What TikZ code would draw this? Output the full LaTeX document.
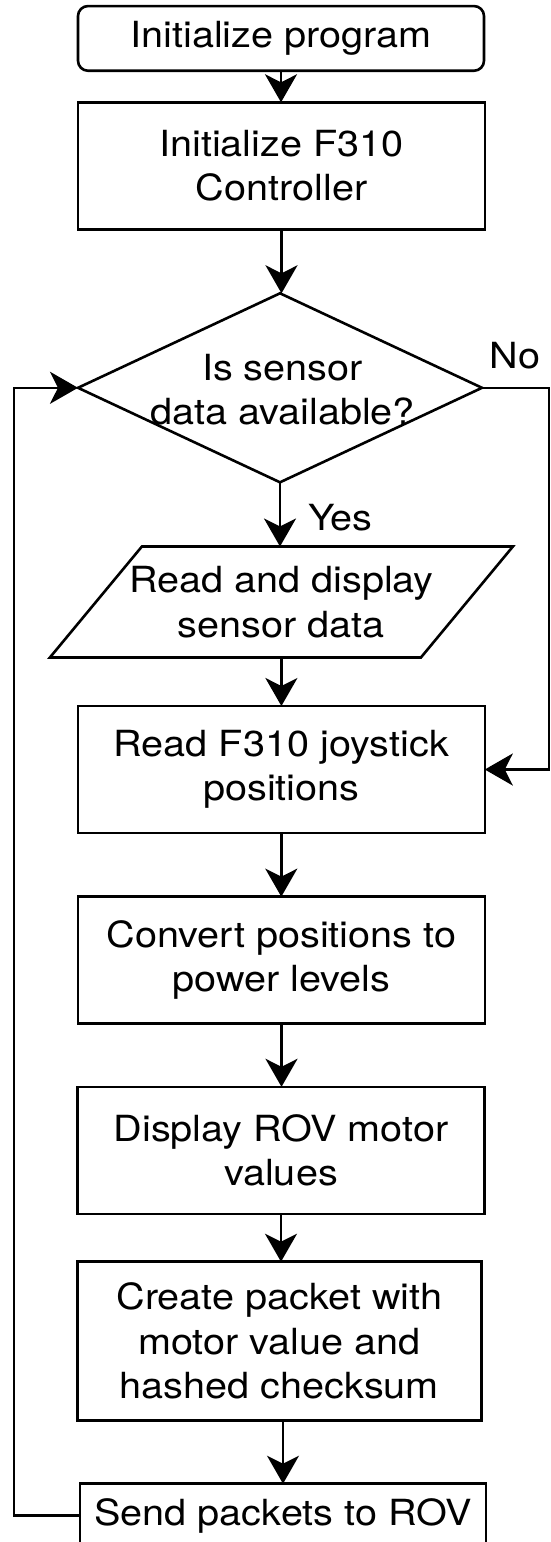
\documentclass[tikz,border=0pt]{standalone}
\usepackage{fontspec}
\setmainfont{TeX Gyre Heros}[FakeStretch=1.1]
\usetikzlibrary{shapes.geometric, arrows.meta}

\begin{document}
\begin{tikzpicture}[x=1pt, y=-1pt, line width=2.6pt, line join=miter,
	every node/.style={outer sep=0pt, inner sep=0pt, align=center, font=\fontsize{36}{44.5}\selectfont},
	block/.style={draw, rectangle, minimum width=407, minimum height=127},
	startbox/.style={draw, rectangle, rounded corners=10pt, minimum width=406, minimum height=64.7},
	decision/.style={draw, diamond, minimum width=404, minimum height=189},
	arrow/.style={-{Stealth[length=28pt, width=32pt, inset=8pt]}}]
	
	\path[use as bounding box] (0,0) rectangle (551,1542);
	\clip (0,0) rectangle (551,1542);
	
	% Các khối chính
	\node[startbox] (start) at (281,38.4) {Initialize program};
	\node[block] (initpad) at (281.5,165.8) {Initialize F310\\Controller};
	\node[decision] (sensorcheck) at (280,387.8) {};
	\node (sensortext) at (282.5,389.5) {Is sensor\\data available?};
	\node[minimum width=371, minimum height=111] (readsensor) at (281.4,602) {Read and display\\sensor data};
	\draw ([xshift=46pt]readsensor.north west) -- ([xshift=46pt]readsensor.north east) -- ([xshift=-46pt]readsensor.south east) -- ([xshift=-46pt]readsensor.south west) -- cycle;
	\node[block] (readjoy) at (281.3,769.5) {Read F310 joystick\\positions};
	\node[block, minimum height=126.7] (convert) at (281.5,960) {Convert positions to\\power levels};
	\node[block] (showmotor) at (281,1150.3) {Display ROV motor\\values};
	\node[block, minimum width=404, minimum height=159] (packet) at (279.4,1341.2) {Create packet with\\motor value and\\hashed checksum};
	\node[block, minimum width=406, minimum height=64] (send) at (283,1515.7) {Send packets to ROV};
	
	\node[anchor=west] (yeslbl) at (308,518) {Yes};
	\node (nolbl) at (515,355.5) {No};
	
	% Mũi tên
	\draw[arrow] (start.south) -- (start.south |- initpad.north);
	\draw[arrow] (initpad.south) -- (initpad.south |- sensorcheck.north);
	\draw[arrow] (sensorcheck.south) -- (sensorcheck.south |- readsensor.north);
	\draw[arrow] (readsensor.south) -- (readsensor.south |- readjoy.north);
	\draw[arrow] (readjoy.south) -- (readjoy.south |- convert.north);
	\draw[arrow] (convert.south) -- (convert.south |- showmotor.north);
	\draw[arrow] (showmotor.south) -- (showmotor.south |- packet.north);
	\draw[arrow, line width=1.4pt] (send.north |- packet.south) -- (send.north);
	\draw[arrow] (sensorcheck.east) -- ++(67,0) |- (readjoy.east);
	\draw[arrow] (send.west) -- ++(-66,0) |- (sensorcheck.west);
\end{tikzpicture}
\end{document}
